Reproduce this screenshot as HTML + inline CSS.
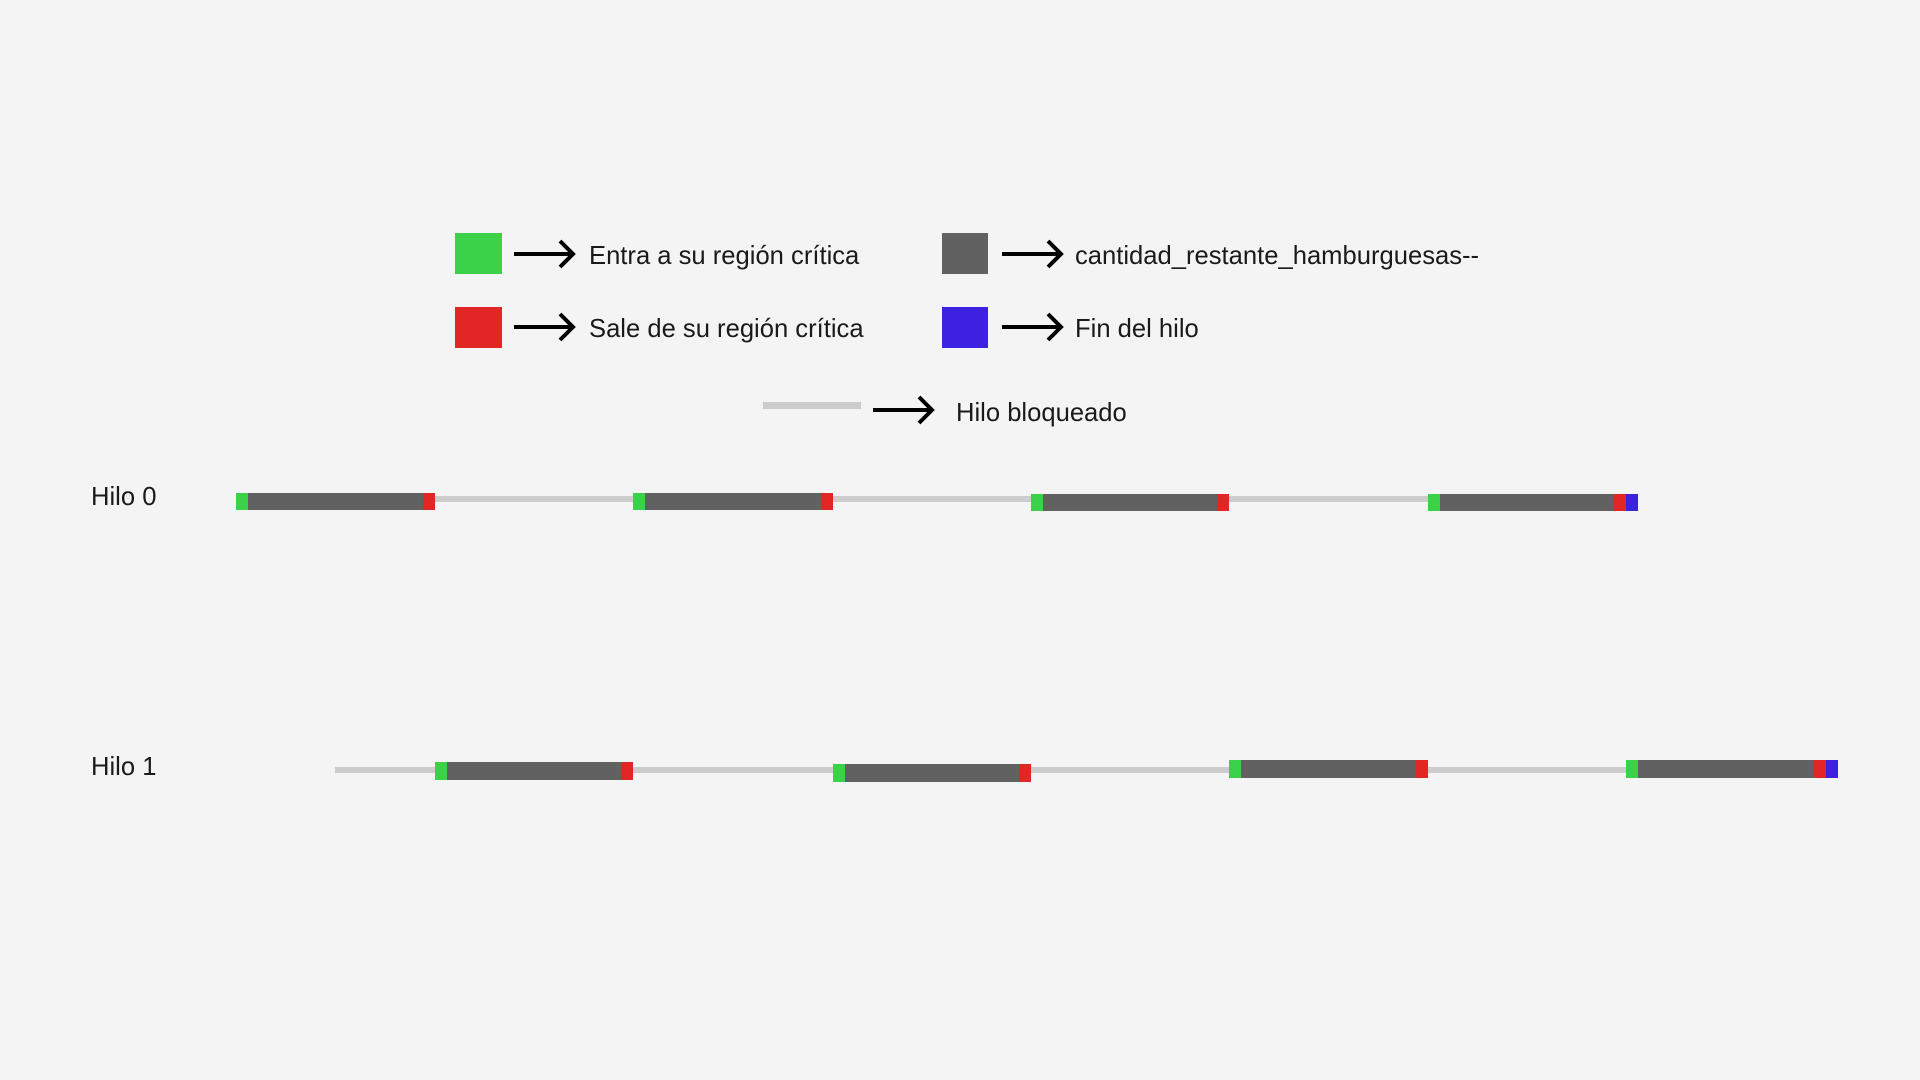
<!DOCTYPE html>
<html><head><meta charset="utf-8"><style>
body{margin:0;width:1920px;height:1080px;background:#f4f4f4;overflow:hidden;font-family:"Liberation Sans",sans-serif}
</style></head><body>
<svg width="1920" height="1080" xmlns="http://www.w3.org/2000/svg" style="position:absolute;left:0;top:0">
<defs>
<g id="arr"><line x1="0" y1="0" x2="58" y2="0" stroke="#000" stroke-width="4"/><polyline points="46,-13 59,0 46,13" fill="none" stroke="#000" stroke-width="4"/></g>
</defs>
<g font-size="25.6" fill="#1a1a1a">
<rect x="455" y="233" width="47" height="41" fill="#3bd24a"/>
<use href="#arr" x="514" y="254"/>
<text x="589" y="264">Entra a su región crítica</text>
<rect x="942" y="233" width="46" height="41" fill="#616161"/>
<use href="#arr" x="1002" y="254"/>
<text x="1075" y="264">cantidad_restante_hamburguesas--</text>
<rect x="455" y="307" width="47" height="41" fill="#e22626"/>
<use href="#arr" x="514" y="327"/>
<text x="589" y="337">Sale de su región crítica</text>
<rect x="942" y="307" width="46" height="41" fill="#3c22e0"/>
<use href="#arr" x="1002" y="327"/>
<text x="1075" y="337">Fin del hilo</text>
<rect x="763" y="402" width="98" height="7" fill="#cccccc"/>
<use href="#arr" x="873" y="410"/>
<text x="956" y="421">Hilo bloqueado</text>
<text x="91" y="505">Hilo 0</text>
<text x="91" y="775">Hilo 1</text>
</g>
<rect x="435" y="496" width="1000" height="6" fill="#cccccc"/>
<g>
<rect x="236" y="493" width="199" height="17" fill="#616161"/><rect x="236" y="493" width="12" height="17" fill="#3bd24a"/><rect x="423" y="493" width="12" height="17" fill="#e22626"/>
<rect x="633" y="493" width="200" height="17" fill="#616161"/><rect x="633" y="493" width="12" height="17" fill="#3bd24a"/><rect x="821" y="493" width="12" height="17" fill="#e22626"/>
<rect x="1031" y="494" width="198" height="17" fill="#616161"/><rect x="1031" y="494" width="12" height="17" fill="#3bd24a"/><rect x="1217" y="494" width="12" height="17" fill="#e22626"/>
<rect x="1428" y="494" width="210" height="17" fill="#616161"/><rect x="1428" y="494" width="12" height="17" fill="#3bd24a"/><rect x="1614" y="494" width="12" height="17" fill="#e22626"/><rect x="1626" y="494" width="12" height="17" fill="#3c22e0"/>
</g>
<rect x="335" y="767" width="1300" height="6" fill="#cccccc"/>
<g>
<rect x="435" y="762" width="198" height="18" fill="#616161"/><rect x="435" y="762" width="12" height="18" fill="#3bd24a"/><rect x="621" y="762" width="12" height="18" fill="#e22626"/>
<rect x="833" y="764" width="198" height="18" fill="#616161"/><rect x="833" y="764" width="12" height="18" fill="#3bd24a"/><rect x="1019" y="764" width="12" height="18" fill="#e22626"/>
<rect x="1229" y="760" width="199" height="18" fill="#616161"/><rect x="1229" y="760" width="12" height="18" fill="#3bd24a"/><rect x="1416" y="760" width="12" height="18" fill="#e22626"/>
<rect x="1626" y="760" width="212" height="18" fill="#616161"/><rect x="1626" y="760" width="12" height="18" fill="#3bd24a"/><rect x="1814" y="760" width="12" height="18" fill="#e22626"/><rect x="1826" y="760" width="12" height="18" fill="#3c22e0"/>
</g>
</svg>
</body></html>
